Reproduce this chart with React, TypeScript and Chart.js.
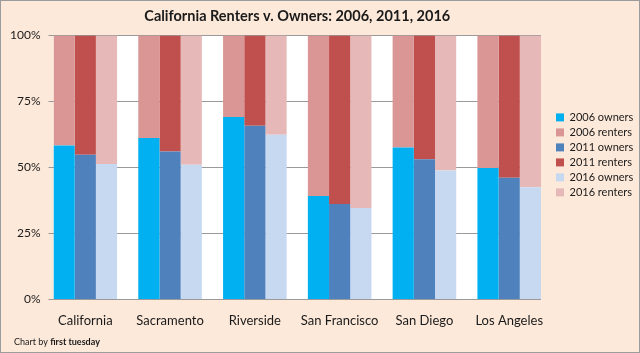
import React, { useEffect, useRef } from 'react';
import { Chart, registerables } from 'chart.js';

Chart.register(...registerables);

const categories = ['California', 'Sacramento', 'Riverside', 'San Francisco', 'San Diego', 'Los Angeles'];
const owners2006 = [58.3, 61.1, 69.1, 39.2, 57.5, 49.8];
const renters2006 = [41.7, 38.9, 30.9, 60.8, 42.5, 50.2];
const owners2011 = [54.8, 56.0, 65.8, 36.1, 53.1, 46.1];
const renters2011 = [45.2, 44.0, 34.2, 63.9, 46.9, 53.9];
const owners2016 = [51.3, 51.0, 62.4, 34.6, 48.8, 42.5];
const renters2016 = [48.7, 49.0, 37.6, 65.4, 51.2, 57.5];
const seriesLabels = ['2006 owners', '2006 renters', '2011 owners', '2011 renters', '2016 owners', '2016 renters'];
const seriesStacks = ['2006', '2006', '2011', '2011', '2016', '2016'];
const seriesColors = ['#00b0f0', '#d99694', '#4f81bd', '#c0504d', '#c6d9f1', '#e6b9b8'];
const yTickLabels = ['0%', '25%', '50%', '75%', '100%'];
const titleText = 'California Renters v. Owners: 2006, 2011, 2016';
const footerPlain = 'Chart by ';
const footerBold = 'first tuesday';

const FONT = 'Lato, "Open Sans", "DejaVu Sans", sans-serif';

export default function App() {
  const ref = useRef<HTMLCanvasElement | null>(null);

  useEffect(() => {
    const canvas = ref.current;
    if (!canvas) return;
    const seriesValues = [owners2006, renters2006, owners2011, renters2011, owners2016, renters2016];

    const plotBg = {
      id: 'plotBg',
      beforeDraw(chart: any) {
        const { ctx, chartArea } = chart;
        ctx.save();
        ctx.fillStyle = '#ffffff';
        ctx.fillRect(chartArea.left, chartArea.top, chartArea.right - chartArea.left, chartArea.bottom - chartArea.top);
        ctx.restore();
      },
    };

    const footer = {
      id: 'footer',
      afterDraw(chart: any) {
        const { ctx } = chart;
        ctx.save();
        ctx.textBaseline = 'middle';
        ctx.fillStyle = '#1a1a1a';
        ctx.font = '9px ' + FONT;
        const x = 13;
        const y = chart.height - 10;
        ctx.fillText(footerPlain, x, y);
        const w = ctx.measureText(footerPlain).width;
        ctx.font = 'bold 9px ' + FONT;
        ctx.fillText(footerBold, x + w, y);
        ctx.restore();
      },
    };

    const chart = new Chart(canvas, {
      type: 'bar',
      data: {
        datasets: seriesValues.map((vals, s) => ({
          label: seriesLabels[s],
          stack: seriesStacks[s],
          backgroundColor: seriesColors[s],
          borderWidth: 0,
          data: vals.map((v, i) => ({ x: i, y: v })),
          categoryPercentage: 0.75,
          barPercentage: 1,
        })),
      },
      options: {
        animation: false,
        responsive: false,
        maintainAspectRatio: false,
        layout: { padding: { left: 1, right: 0, top: 0, bottom: 9 } },
        plugins: {
          tooltip: { enabled: false },
          title: {
            display: true,
            fullSize: false,
            text: titleText,
            color: '#1a1a1a',
            font: { family: FONT, size: 14.5, weight: 'bold' },
            padding: { top: 7, bottom: 10 },
          },
          legend: {
            position: 'right',
            align: 'start',
            maxWidth: 87,
            title: { display: true, text: '', padding: { top: 92.5, bottom: 0 }, font: { size: 12 } },
            labels: {
              boxWidth: 8,
              boxHeight: 8,
              padding: 4,
              color: '#1a1a1a',
              font: { family: FONT, size: 11 },
            },
          },
        },
        scales: {
          x: {
            type: 'linear',
            position: 'bottom',
            stacked: true,
            offset: false,
            min: -0.375,
            max: 5.375,
            grid: { display: false, offset: false, drawTicks: false },
            border: { display: false },
            ticks: {
              stepSize: 1,
              includeBounds: false,
              autoSkip: false,
              maxRotation: 0,
              padding: 14,
              color: '#1a1a1a',
              font: { family: FONT, size: 13 },
              callback: (v: any) => (Number.isInteger(v) && categories[v] !== undefined ? categories[v] : ''),
            },
          },
          y: {
            stacked: true,
            min: 0,
            max: 100,
            ticks: {
              stepSize: 25,
              padding: 8,
              color: '#1a1a1a',
              font: { family: FONT, size: 12 },
              callback: (v: any) => yTickLabels[Math.round(Number(v) / 25)],
            },
            grid: { color: '#9a9a9a', tickLength: 5, lineWidth: 1 },
            border: { display: false },
          },
          yR: {
            position: 'right',
            display: true,
            min: 0,
            max: 100,
            grid: { display: false, drawTicks: false },
            border: { display: false },
            ticks: { display: false },
            afterFit: (s: any) => {
              s.width = 11;
            },
          },
        },
      },
      plugins: [plotBg, footer],
    } as any);

    return () => chart.destroy();
  }, []);

  return (
    <div
      style={{
        position: 'absolute',
        left: 0,
        top: 0,
        width: 640,
        height: 353,
        boxSizing: 'border-box',
        border: '1px solid #9c9c9c',
        background: '#fde9d9',
      }}
    >
      <canvas ref={ref} width={638} height={351} style={{ display: 'block', width: 638, height: 351 }} />
    </div>
  );
}
